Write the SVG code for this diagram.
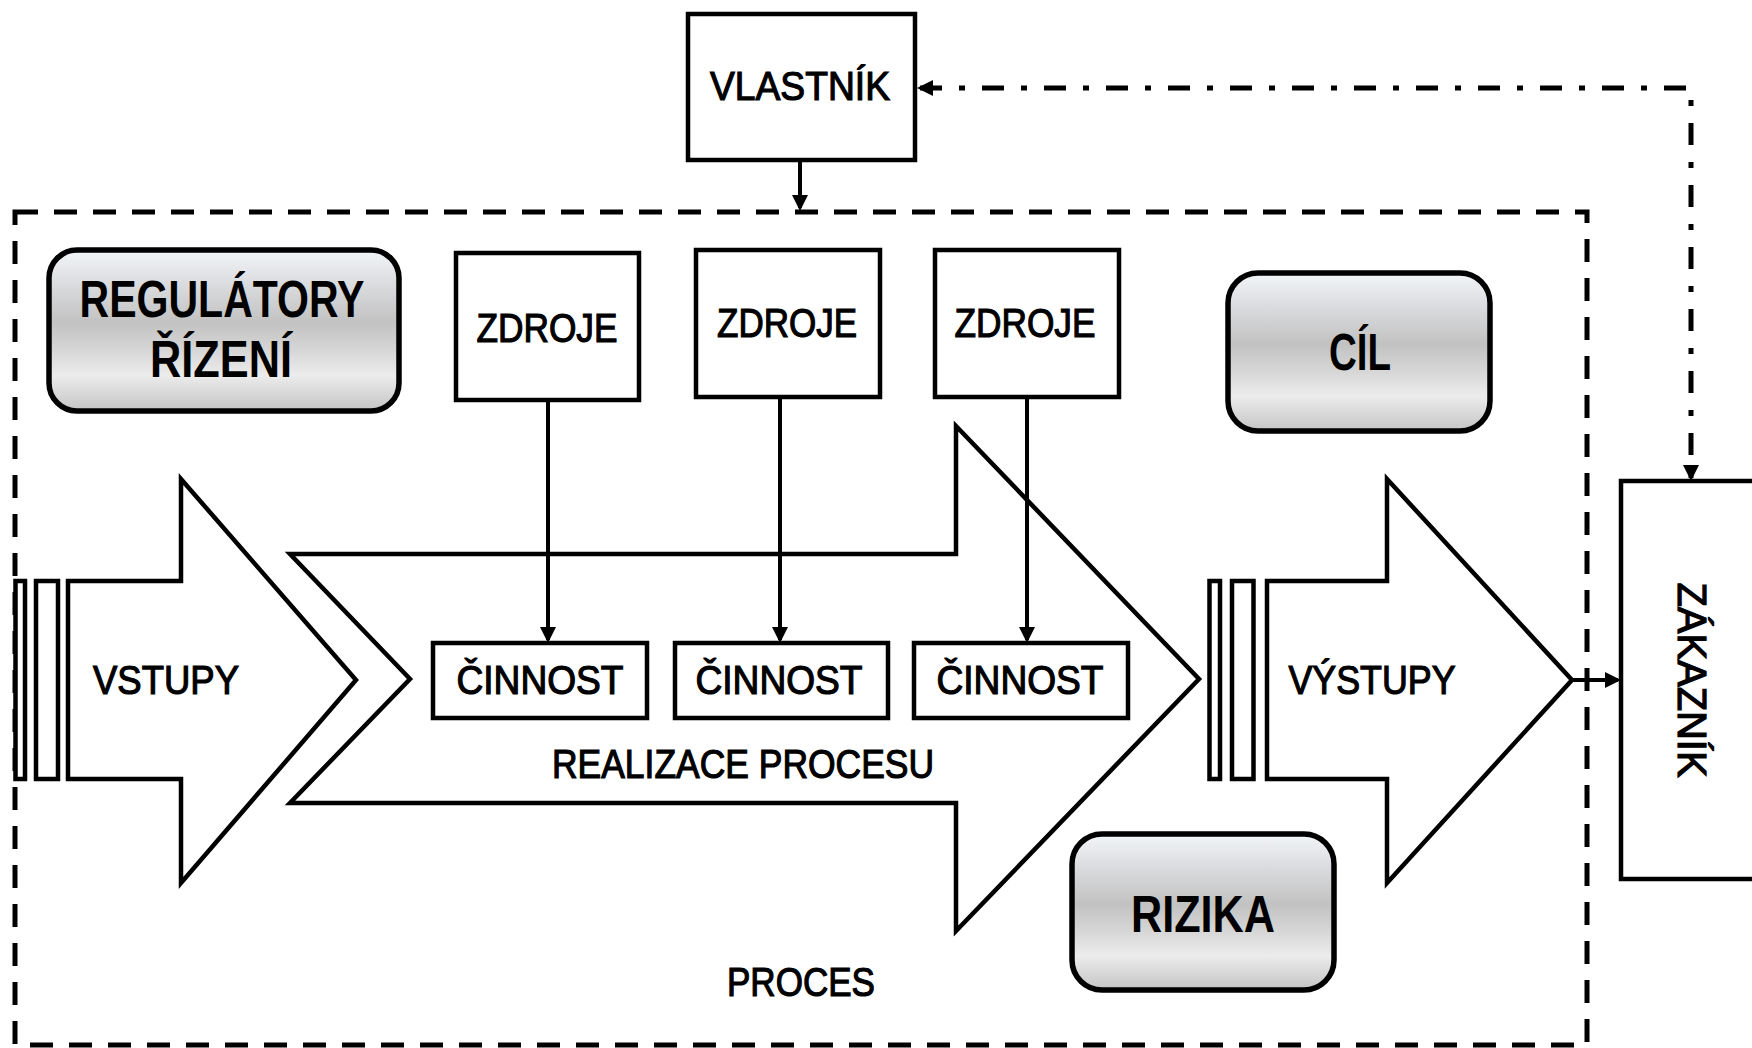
<svg xmlns="http://www.w3.org/2000/svg" width="1752" height="1048" viewBox="0 0 1752 1048">
  <defs>
    <linearGradient id="metal" x1="0" y1="0" x2="0" y2="1">
      <stop offset="0" stop-color="#f2f5f9"/>
      <stop offset="0.2" stop-color="#dcdde0"/>
      <stop offset="0.45" stop-color="#c2c2c2"/>
      <stop offset="0.62" stop-color="#d6d6d6"/>
      <stop offset="0.78" stop-color="#ececec"/>
      <stop offset="1" stop-color="#c4c4c4"/>
    </linearGradient>
    <marker id="ah" viewBox="0 0 16 16" refX="13" refY="8" markerWidth="16" markerHeight="16" markerUnits="userSpaceOnUse" orient="auto-start-reverse">
      <path d="M0,0 L16,8 L0,16 Z" fill="#000"/>
    </marker>
    <style>
      .box { fill: #fff; stroke: #000; stroke-width: 4.5; }
      .shape { fill: #fff; stroke: #000; stroke-width: 4.5; stroke-linejoin: miter; }
      .rbox { fill: url(#metal); stroke: #000; stroke-width: 5.5; }
      .lbl { font-family: "Liberation Sans", Arial, sans-serif; font-size: 41px; fill: #000; stroke: #000; stroke-width: 1.2; text-anchor: middle; }
      .big { font-family: "Liberation Sans", Arial, sans-serif; font-size: 52px; font-weight: bold; fill: #000; text-anchor: middle; }
      .conn { fill: none; stroke: #000; stroke-width: 4; }
      .dashdot { fill: none; stroke: #000; stroke-width: 5; stroke-dasharray: 22 17 6 17; }
      .boundary { fill: none; stroke: #000; stroke-width: 5; stroke-dasharray: 23 16; }
    </style>
  </defs>

  <g id="proces">
    <rect class="boundary" x="15" y="212" width="1572" height="833"/>
    <text class="lbl" x="801" y="996" textLength="148" lengthAdjust="spacingAndGlyphs">PROCES</text>
  </g>

  <g id="vstupy">
    <rect class="shape" x="15.5" y="581" width="9.5" height="198"/>
    <rect class="shape" x="36" y="581" width="22" height="198"/>
    <polygon class="shape" points="68,581 181,581 181,479 356,680 181,883 181,779 68,779"/>
    <text class="lbl" x="166" y="694" textLength="146" lengthAdjust="spacingAndGlyphs">VSTUPY</text>
  </g>

  <g id="realizace">
    <polygon class="shape" points="290,554 956,554 956,426 1199,679 956,931 956,803 290,803 410,679"/>
    <text class="lbl" x="743" y="778" textLength="382" lengthAdjust="spacingAndGlyphs">REALIZACE PROCESU</text>
  </g>

  <g id="vystupy">
    <rect class="shape" x="1209.5" y="581" width="10.5" height="198"/>
    <rect class="shape" x="1232" y="581" width="21.5" height="198"/>
    <polygon class="shape" points="1267,581 1387,581 1387,479 1572,680 1387,883 1387,779 1267,779"/>
    <text class="lbl" x="1372" y="694" textLength="167" lengthAdjust="spacingAndGlyphs">VÝSTUPY</text>
  </g>

  <g id="vlastnik">
    <rect class="box" x="688" y="14" width="227" height="146"/>
    <text class="lbl" x="800" y="100" textLength="180" lengthAdjust="spacingAndGlyphs">VLASTNÍK</text>
  </g>

  <g id="zakaznik">
    <rect class="box" x="1621" y="481" width="200" height="398"/>
    <text class="lbl" transform="translate(1678,680) rotate(90)" x="0" y="0" textLength="195" lengthAdjust="spacingAndGlyphs">ZÁKAZNÍK</text>
  </g>

  <g id="regulatory">
    <rect class="rbox" x="49" y="250" width="350" height="161" rx="28" ry="28"/>
    <text class="big" x="222" y="317" textLength="285" lengthAdjust="spacingAndGlyphs">REGULÁTORY</text>
    <text class="big" x="221" y="377" textLength="142" lengthAdjust="spacingAndGlyphs">ŘÍZENÍ</text>
  </g>

  <g id="cil">
    <rect class="rbox" x="1228" y="273" width="262" height="158" rx="30" ry="30"/>
    <text class="big" x="1360" y="370" textLength="62" lengthAdjust="spacingAndGlyphs">CÍL</text>
  </g>

  <g id="rizika">
    <rect class="rbox" x="1072" y="834" width="262" height="156" rx="30" ry="30"/>
    <text class="big" x="1203" y="932" textLength="144" lengthAdjust="spacingAndGlyphs">RIZIKA</text>
  </g>

  <g id="zdroje1">
    <rect class="box" x="456" y="253" width="183" height="147"/>
    <text class="lbl" x="547" y="342" textLength="141" lengthAdjust="spacingAndGlyphs">ZDROJE</text>
  </g>
  <g id="zdroje2">
    <rect class="box" x="696" y="250" width="184" height="147"/>
    <text class="lbl" x="787" y="337" textLength="140" lengthAdjust="spacingAndGlyphs">ZDROJE</text>
  </g>
  <g id="zdroje3">
    <rect class="box" x="935" y="250" width="184" height="147"/>
    <text class="lbl" x="1025" y="337" textLength="141" lengthAdjust="spacingAndGlyphs">ZDROJE</text>
  </g>

  <g id="cinnost1">
    <rect class="box" x="433" y="643" width="214" height="75"/>
    <text class="lbl" x="540" y="694" textLength="167" lengthAdjust="spacingAndGlyphs">ČINNOST</text>
  </g>
  <g id="cinnost2">
    <rect class="box" x="675" y="643" width="213" height="75"/>
    <text class="lbl" x="779" y="694" textLength="167" lengthAdjust="spacingAndGlyphs">ČINNOST</text>
  </g>
  <g id="cinnost3">
    <rect class="box" x="914" y="643" width="214" height="75"/>
    <text class="lbl" x="1020" y="694" textLength="167" lengthAdjust="spacingAndGlyphs">ČINNOST</text>
  </g>

  <g id="connectors">
    <path class="conn" d="M800,160 V208" marker-end="url(#ah)"/>
    <path class="conn" d="M548,400 V640" marker-end="url(#ah)"/>
    <path class="conn" d="M780,397 V640" marker-end="url(#ah)"/>
    <path class="conn" d="M1027,397 V640" marker-end="url(#ah)"/>
    <path class="conn" d="M1572,680 H1618" marker-end="url(#ah)"/>
    <path class="dashdot" d="M920,88 H1691 V478" marker-start="url(#ah)" marker-end="url(#ah)"/>
  </g>
</svg>
